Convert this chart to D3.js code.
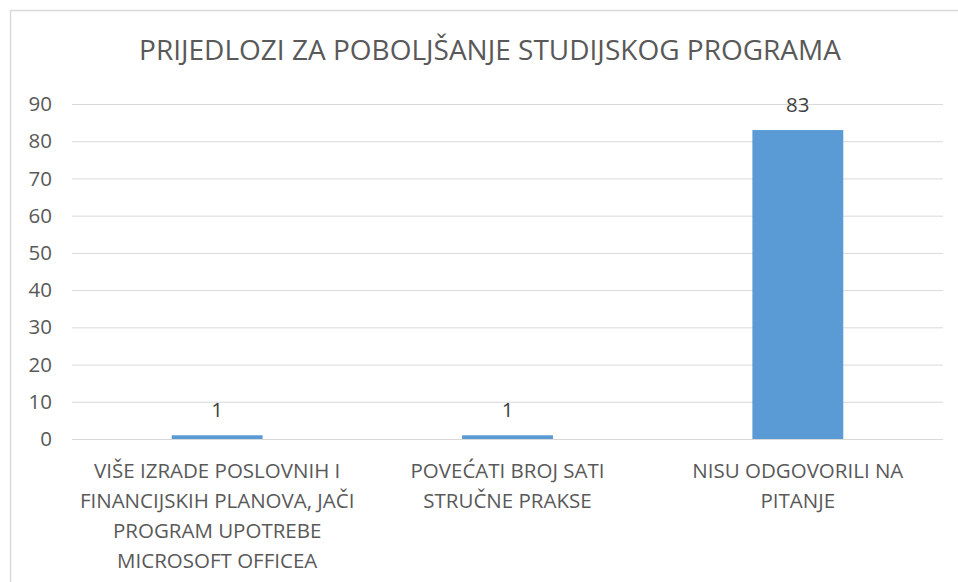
<!DOCTYPE html>
<html>
<head>
<meta charset="utf-8">
<script src="https://cdn.jsdelivr.net/npm/d3@7.9.0/dist/d3.min.js"></script>
<style>
  body { margin: 0; background: #fff; }
  svg { display: block; font-family: 'Open Sans', sans-serif; }
</style>
</head>
<body>
<div id="chart"></div>
<script>
// Chart data
const title = 'PRIJEDLOZI ZA POBOLJŠANJE STUDIJSKOG PROGRAMA';
const categories = [
  ['VIŠE IZRADE POSLOVNIH I', 'FINANCIJSKIH PLANOVA, JAČI', 'PROGRAM UPOTREBE', 'MICROSOFT OFFICEA'],
  ['POVEĆATI BROJ SATI', 'STRUČNE PRAKSE'],
  ['NISU ODGOVORILI NA', 'PITANJE']
];
const values = [1, 1, 83];
const yTicks = [0, 10, 20, 30, 40, 50, 60, 70, 80, 90];

const width = 958;
const height = 582;
const margin = { top: 104, right: 15, bottom: 143, left: 72 };

const svg = d3.select('#chart')
  .append('svg')
  .attr('width', width)
  .attr('height', height);

// chart area border
svg.append('rect')
  .attr('x', 10.5)
  .attr('y', 10.5)
  .attr('width', 980)
  .attr('height', 600)
  .attr('fill', 'none')
  .attr('stroke', '#d9d9d9')
  .attr('stroke-width', 1.5);

svg.append('text')
  .attr('x', 490)
  .attr('y', 60)
  .attr('text-anchor', 'middle')
  .attr('fill', '#595959')
  .style('font-size', '28px')
  .text(title);

const x = d3.scaleBand()
  .domain(d3.range(categories.length))
  .range([margin.left, width - margin.right]);

const y = d3.scaleLinear()
  .domain([0, 90])
  .range([height - margin.bottom, margin.top]);

// gridlines
svg.append('g')
  .attr('transform', `translate(${margin.left}, 0)`)
  .call(d3.axisLeft(y).tickValues(yTicks).tickFormat('').tickSize(-(width - margin.left - margin.right)))
  .call(g => g.select('.domain').remove())
  .call(g => g.selectAll('line').attr('stroke', '#d9d9d9').attr('stroke-width', 1));

// y labels
svg.append('g')
  .attr('transform', `translate(${margin.left}, 0)`)
  .call(d3.axisLeft(y).tickValues(yTicks).tickSize(0).tickPadding(20))
  .call(g => g.select('.domain').remove())
  .call(g => g.selectAll('text')
    .attr('fill', '#595959')
    .style('font-family', "'Open Sans', sans-serif")
    .style('font-size', '20.5px'));

const barW = x.bandwidth() * 0.313;

svg.append('g')
  .selectAll('rect')
  .data(values)
  .join('rect')
  .attr('x', (d, i) => x(i) + x.bandwidth() / 2 - barW / 2)
  .attr('y', d => y(d))
  .attr('width', barW)
  .attr('height', d => y(0) - y(d))
  .attr('fill', '#5b9bd5');

// value labels
svg.append('g')
  .selectAll('text')
  .data(values)
  .join('text')
  .attr('x', (d, i) => x(i) + x.bandwidth() / 2)
  .attr('y', d => y(d) - 25)
  .attr('dy', '0.35em')
  .attr('text-anchor', 'middle')
  .attr('fill', '#404040')
  .style('font-size', '20.5px')
  .text(d => d);

// category labels
const catG = svg.append('g')
  .selectAll('text')
  .data(categories)
  .join('text')
  .attr('text-anchor', 'middle')
  .attr('fill', '#595959')
  .style('font-size', '20.5px');

catG.selectAll('tspan')
  .data((d, i) => d.map(line => ({ line, i })))
  .join('tspan')
  .attr('x', d => x(d.i) + x.bandwidth() / 2)
  .attr('y', (d, j) => y(0) + 32 + j * 29.8)
  .attr('dy', '0.35em')
  .text(d => d.line);
</script>
</body>
</html>
